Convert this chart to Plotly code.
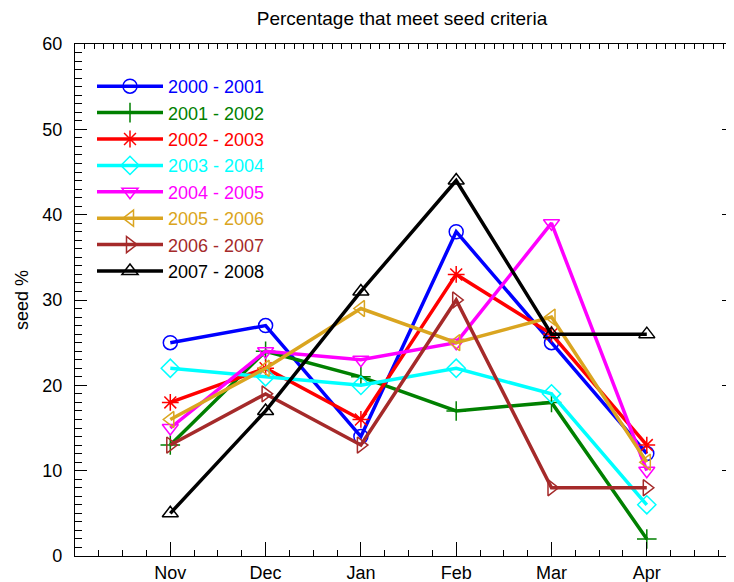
import plotly.graph_objects as go

months = ["Nov", "Dec", "Jan", "Feb", "Mar", "Apr"]
seasons = ["2000 - 2001", "2001 - 2002", "2002 - 2003", "2003 - 2004",
           "2004 - 2005", "2005 - 2006", "2006 - 2007", "2007 - 2008"]
s2000 = [25, 27, 14, 38, 25, 12]
s2001 = [13, 24, 21, 17, 18, 2]
s2002 = [18, 22, 16, 33, 26, 13]
s2003 = [22, 21, 20, 22, 19, 6]
s2004 = [15, 24, 23, 25, 39, 10]
s2005 = [16, 22, 29, 25, 28, 11]
s2006 = [13, 19, 13, 30, 8, 8]
s2007 = [5, 17, 31, 44, 26, 26]
values = [s2000, s2001, s2002, s2003, s2004, s2005, s2006, s2007]
colors = ["#0000ff", "#008000", "#ff0000", "#00ffff",
          "#ff00ff", "#daa520", "#a52a2a", "#000000"]
symbols = ["circle-open", "cross-thin-open", "asterisk-open", "diamond-open",
           "triangle-down-open", "triangle-left-open", "triangle-right-open",
           "triangle-up-open"]

x = list(range(1, len(months) + 1))
FONT = "Liberation Sans, Arial, Helvetica, sans-serif"

fig = go.Figure()
for name, vals, col, sym in zip(seasons, values, colors, symbols):
    fig.add_trace(go.Scatter(
        x=x, y=vals, mode="lines+markers",
        name=f"<span style='color:{col}'>{name}</span>",
        line=dict(color=col, width=3.5),
        marker=dict(symbol=sym, size=14, color=col,
                    line=dict(color=col, width=1.5)),
    ))

# page has an 8px body margin: figure is placed at (8, 8)
OFF = 8
W, H = 734 - OFF, 582 - OFF
L, T, B, R = 75 - OFF, 44 - OFF, 582 - 556, 0
xmax = (734 - 75) / 95.3

fig.update_layout(
    width=W, height=H,
    margin=dict(l=L, r=R, t=T, b=B),
    paper_bgcolor="white", plot_bgcolor="white",
    font=dict(family=FONT, size=18, color="black"),
    title=dict(text="Percentage that meet seed criteria",
               x=(402 - OFF) / W, xref="container", xanchor="center",
               y=1 - 4 / H, yref="container", yanchor="top",
               font=dict(size=19)),
    showlegend=True,
    legend=dict(x=(92 - 75) / (734 - 75), y=1 - (68 - 44) / (556 - 44),
                xanchor="left", yanchor="top",
                bgcolor="rgba(0,0,0,0)", font=dict(size=18),
                itemwidth=66, tracegroupgap=0),
    xaxis=dict(range=[0, xmax], tickvals=x, ticktext=months,
               showgrid=False, zeroline=False, showline=True,
               linecolor="black", linewidth=1.2, mirror=False,
               ticks="inside", ticklen=14, tickcolor="black", tickwidth=1,
               minor=dict(dtick=0.25, ticks="inside", ticklen=6,
                          tickcolor="black", tick0=0),
               tickfont=dict(size=18), ticklabelstandoff=0),
    xaxis2=dict(range=[0, xmax], overlaying="x", side="top",
                showticklabels=False, showgrid=False, zeroline=False,
                showline=True, linecolor="black", linewidth=1.2,
                ticks="inside", ticklen=5, dtick=0.1, tick0=0,
                tickcolor="black"),
    yaxis=dict(range=[0, 60], dtick=10, showgrid=False, zeroline=False,
               showline=True, linecolor="black", linewidth=1.2,
               mirror="ticks",
               ticks="inside", ticklen=12, tickcolor="black", tickwidth=1,
               minor=dict(dtick=1, ticks="inside", ticklen=7,
                          tickcolor="black"),
               tickfont=dict(size=18), ticklabelstandoff=8,
               title=dict(text="seed %", font=dict(size=18), standoff=8)),
)
# invisible trace to activate the top axis
fig.add_trace(go.Scatter(x=[0], y=[0], xaxis="x2", mode="markers",
                         marker=dict(opacity=0), showlegend=False,
                         hoverinfo="skip"))

fig.write_html("out.html")
